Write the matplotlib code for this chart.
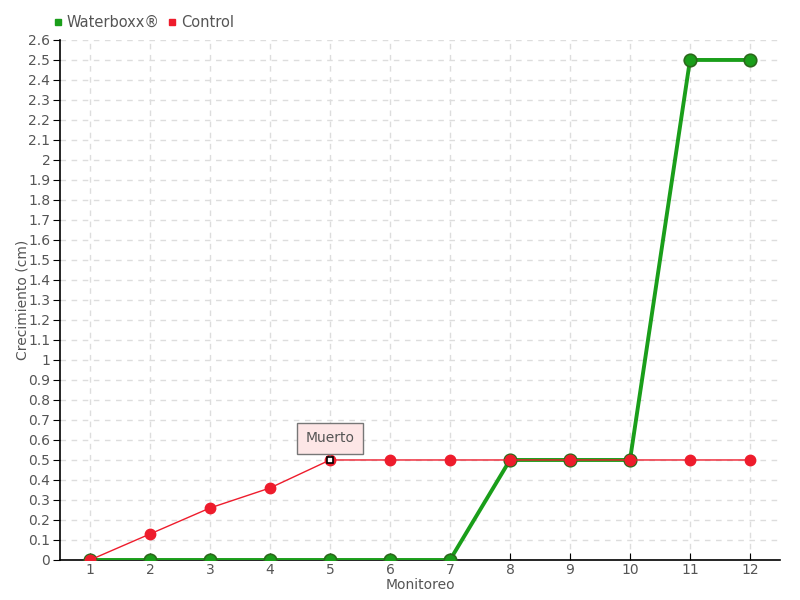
import matplotlib
matplotlib.use("Agg")
import matplotlib.pyplot as plt
from matplotlib.lines import Line2D

monitoreo = [1, 2, 3, 4, 5, 6, 7, 8, 9, 10, 11, 12]
waterboxx = [0, 0, 0, 0, 0, 0, 0, 0.5, 0.5, 0.5, 2.5, 2.5]
control = [0, 0.13, 0.26, 0.36, 0.5, 0.5, 0.5, 0.5, 0.5, 0.5, 0.5, 0.5]
y_ticks = [round(i * 0.1, 1) for i in range(27)]
y_labels = ["%g" % v for v in y_ticks]
annot_idx = 4
annot_text = "Muerto"

plt.rcParams['font.family'] = ['DejaVu Sans']
txt = '#555555'

fig = plt.figure(figsize=(8, 6), dpi=100)
ax = fig.add_axes([0.075, 0.0667, 0.9, 0.8667])
ax.set_xlim(0.5, 12.5)
ax.set_ylim(0, 2.6)

green = '#1a9e1a'
red = '#ee1c2c'
ax.plot(monitoreo, waterboxx, color=green, lw=2.8, marker='o', ms=9,
        mfc=green, mec='#2a6a1a', mew=1.2, zorder=3, label='Waterboxx®')
ax.plot(monitoreo, control, color=red, lw=1, marker='o', ms=7.5,
        mfc=red, mec=red, zorder=4, label='Control')
ax.plot([monitoreo[annot_idx]], [control[annot_idx]], marker='s', ms=5,
        mfc='white', mec='black', mew=1.2, ls='none', zorder=5)

ax.annotate(annot_text, xy=(monitoreo[annot_idx], control[annot_idx]),
            xytext=(0, 15.5), textcoords='offset points', ha='center', va='center',
            fontsize=10, color=txt,
            bbox=dict(boxstyle='square,pad=0.6', fc='#fde6e6', ec='#777777', lw=1),
            arrowprops=dict(arrowstyle='-', color='#777777', lw=1, shrinkA=0, shrinkB=3),
            zorder=6)

ax.set_xticks(monitoreo)
ax.set_xticklabels([str(m) for m in monitoreo])
ax.set_yticks(y_ticks)
ax.set_yticklabels(y_labels)
ax.tick_params(axis='x', direction='in', length=5, colors='black', labelcolor=txt, labelsize=10, pad=2)
ax.tick_params(axis='y', direction='out', length=5, colors='black', labelcolor=txt, labelsize=10, pad=2)
for s in ['top', 'right']:
    ax.spines[s].set_visible(False)
ax.spines['left'].set_linewidth(1.2)
ax.spines['bottom'].set_linewidth(1.2)
ax.grid(True, color='#dddddd', ls=(0, (4, 4)), lw=1)
ax.set_axisbelow(True)

ax.set_xlabel('Monitoreo', color=txt, fontsize=10, labelpad=1)
ax.set_ylabel('Crecimiento (cm)', color=txt, fontsize=10)
ax.yaxis.set_label_coords(-0.042, 0.5)

handles = [Line2D([], [], marker='s', ls='none', color=green, ms=5),
           Line2D([], [], marker='s', ls='none', color=red, ms=5)]
fig.legend(handles, ['Waterboxx®', 'Control'], loc='upper left',
           bbox_to_anchor=(0.05, 0.997), ncol=2, frameon=False, fontsize=10.5,
           handlelength=0.6, handletextpad=0.3, columnspacing=0.6, labelcolor=txt)

fig.savefig('out.png', dpi=100)
